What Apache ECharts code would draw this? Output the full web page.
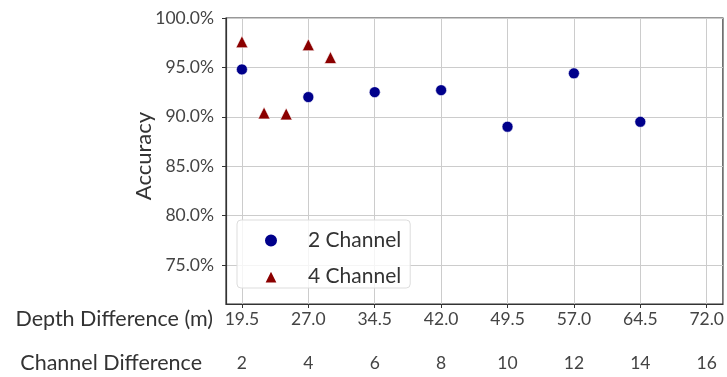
<!DOCTYPE html>
<html>
<head>
<meta charset="utf-8">
<script src="https://cdn.jsdelivr.net/npm/echarts@6/dist/echarts.min.js"></script>
<style>
  html, body { margin: 0; padding: 0; background: #ffffff; }
  #chart { width: 727px; height: 377px; }
</style>
</head>
<body>
<div id="chart"></div>
<script>
// Depth difference (m) at which each configuration was evaluated
const depth2ch = [19.5, 27.0, 34.5, 42.0, 49.5, 57.0, 64.5];
const acc2ch = [94.8, 92.0, 92.5, 92.7, 89.0, 94.4, 89.5];

const depth4ch = [19.5, 22.0, 24.5, 27.0, 29.5];
const acc4ch = [97.6, 90.4, 90.3, 97.3, 96.0];

// Tick positions for both horizontal scales and the accuracy axis
const depthTicks = [19.5, 27.0, 34.5, 42.0, 49.5, 57.0, 64.5, 72.0];
const channelTicks = [2, 4, 6, 8, 10, 12, 14, 16];
const accTicks = [75, 80, 85, 90, 95, 100];

const depthMin = 17.7, depthMax = 73.83;
// channel difference is a linear rescaling of depth difference
const toChannel = d => (d - 19.5) / 3.75 + 2;

const FONT = 'Lato';
const chart = echarts.init(document.getElementById('chart'), null, { renderer: 'canvas' });

chart.setOption({
  backgroundColor: '#ffffff',
  animation: false,
  textStyle: { fontFamily: FONT },
  grid: {
    left: 226, top: 18, right: 2, bottom: 73,
    show: true, borderColor: '#333333', borderWidth: 1.2, backgroundColor: 'transparent'
  },
  legend: {
    orient: 'vertical',
    left: 237, top: 220,
    padding: [10, 9, 1, 26],
    itemGap: 15,
    itemWidth: 14, itemHeight: 14,
    backgroundColor: 'rgba(255,255,255,0.8)',
    borderColor: '#dddddd', borderWidth: 1, borderRadius: 4,
    textStyle: { fontFamily: FONT, fontSize: 21, color: '#333333', padding: [0, 0, 0, 25] },
    data: [
      { name: '2 Channel', icon: 'circle' },
      { name: '4 Channel', icon: 'triangle' }
    ]
  },
  xAxis: [
    {
      type: 'value',
      min: depthMin, max: depthMax,
      position: 'bottom',
      name: 'Depth Difference (m)',
      nameLocation: 'start',
      nameGap: 13,
      nameTextStyle: { fontFamily: FONT, fontSize: 21.5, color: '#333333', verticalAlign: 'top', padding: [4, 0, 0, 0] },
      axisLine: { show: true, lineStyle: { color: '#333333', width: 1.2 } },
      axisTick: { show: true, length: 4, customValues: depthTicks, lineStyle: { color: '#333333' } },
      axisLabel: {
        customValues: depthTicks, margin: 6,
        fontFamily: FONT, fontSize: 17.5, color: '#444444',
        formatter: v => v.toFixed(1)
      },
      splitLine: { show: true, lineStyle: { color: '#cccccc', width: 1 } }
    },
    {
      type: 'value',
      min: toChannel(depthMin), max: toChannel(depthMax),
      position: 'bottom',
      offset: 44,
      name: 'Channel Difference',
      nameLocation: 'start',
      nameGap: 24,
      nameTextStyle: { fontFamily: FONT, fontSize: 21.5, color: '#333333', verticalAlign: 'top', padding: [4, 0, 0, 0] },
      axisLine: { show: false },
      axisTick: { show: false, customValues: channelTicks },
      axisLabel: {
        customValues: channelTicks, margin: 6,
        fontFamily: FONT, fontSize: 17.5, color: '#444444'
      },
      splitLine: { show: false }
    }
  ],
  yAxis: {
    type: 'value',
    min: 71.07, max: 100,
    name: 'Accuracy',
    nameLocation: 'middle',
    nameGap: 71,
    nameMoveOverlap: false,
    nameRotate: 90,
    nameTextStyle: { fontFamily: FONT, fontSize: 22, color: '#333333', padding: [0, 0, 0, 10] },
    axisLine: { show: true, lineStyle: { color: '#333333', width: 1.2 } },
    axisTick: { show: true, length: 4, customValues: accTicks, lineStyle: { color: '#333333' } },
    axisLabel: {
      customValues: accTicks, margin: 12,
      fontFamily: FONT, fontSize: 17.5, color: '#444444',
      formatter: v => v.toFixed(1) + '%'
    },
    splitLine: { show: true, lineStyle: { color: '#cccccc', width: 1 } }
  },
  series: [
    {
      name: '2 Channel',
      type: 'scatter',
      xAxisIndex: 0,
      symbol: 'circle',
      symbolSize: 11,
      itemStyle: { color: '#00008b', opacity: 1, borderColor: '#ffffff', borderWidth: 0.6 },
      data: depth2ch.map((d, i) => [d, acc2ch[i]])
    },
    {
      name: '4 Channel',
      type: 'scatter',
      xAxisIndex: 0,
      symbol: 'triangle',
      symbolSize: 12,
      itemStyle: { color: '#8b0000', opacity: 1, borderColor: '#ffffff', borderWidth: 0.6 },
      data: depth4ch.map((d, i) => [d, acc4ch[i]])
    }
  ]
});
</script>
</body>
</html>
